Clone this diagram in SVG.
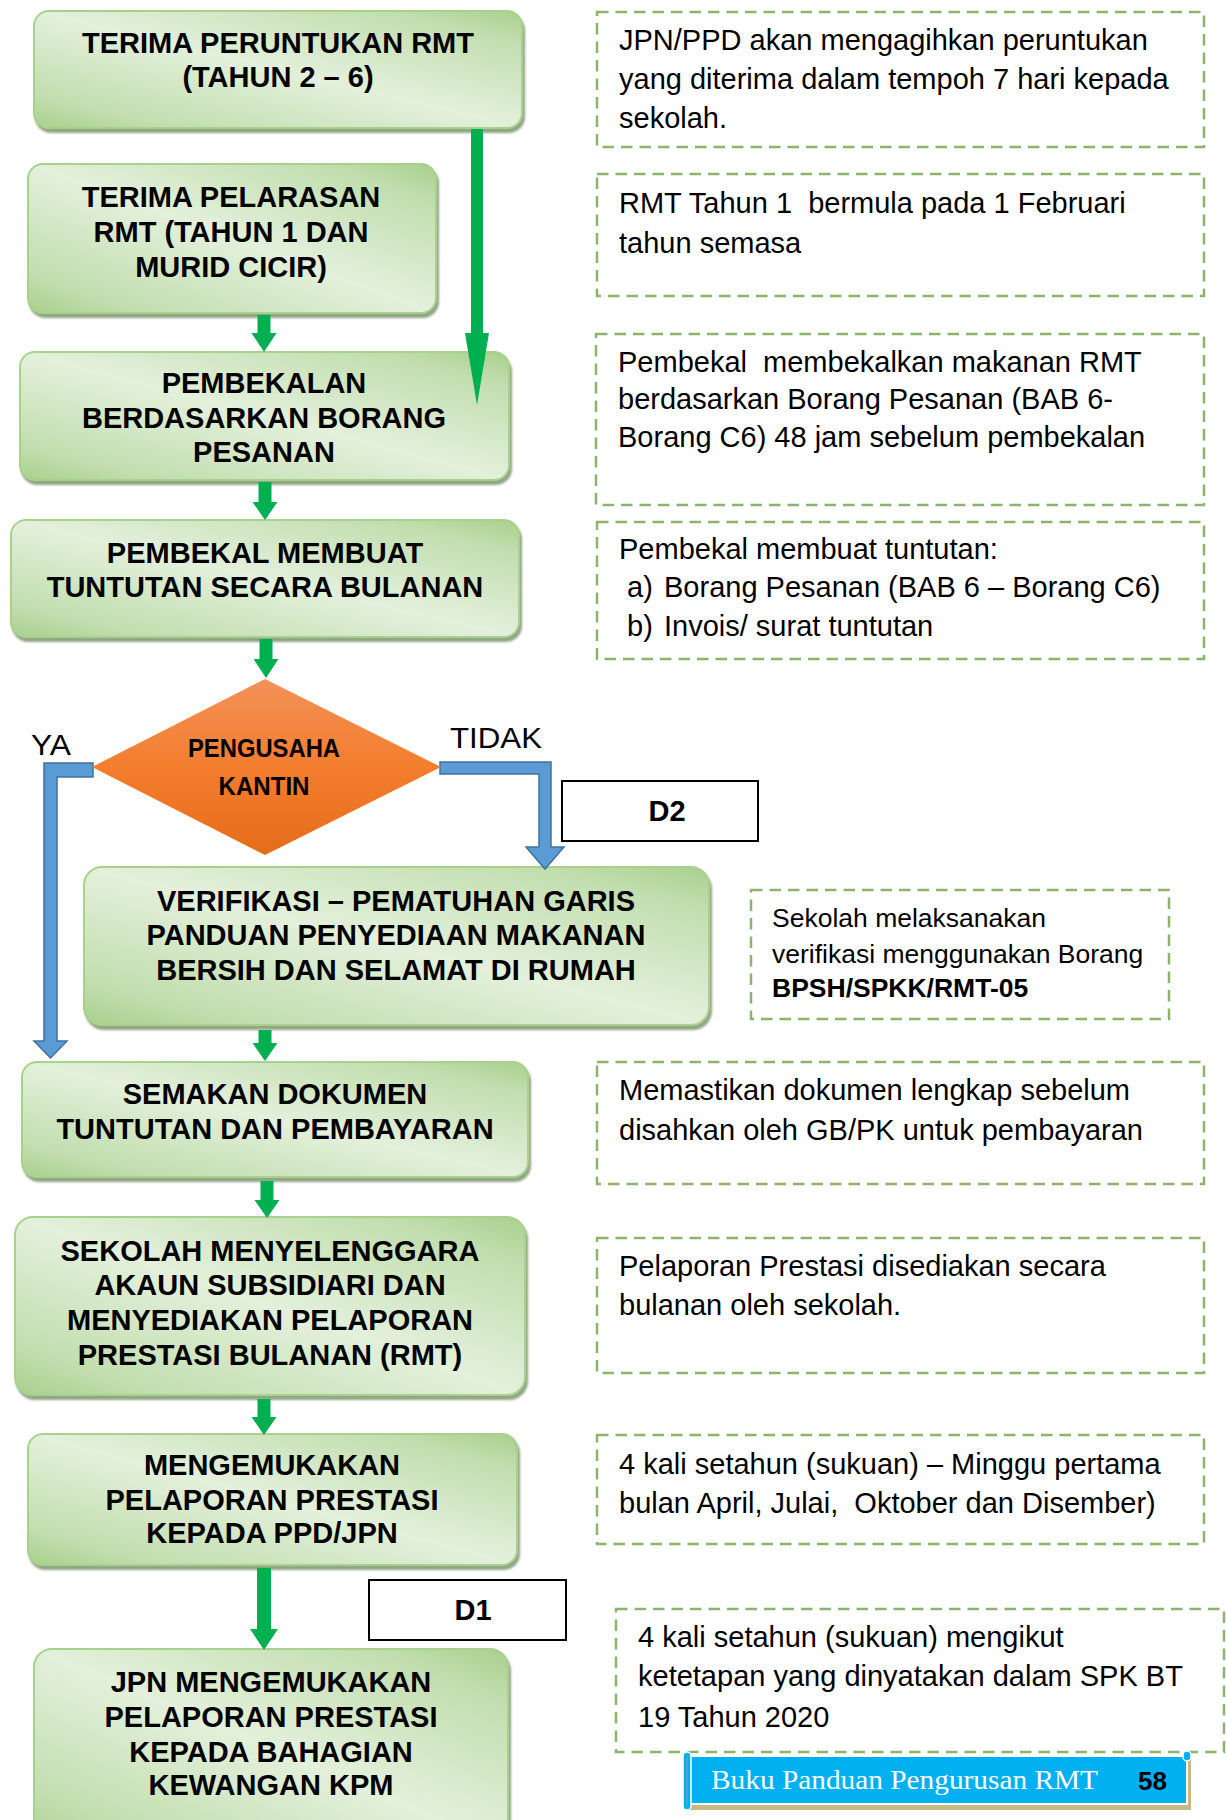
<svg xmlns="http://www.w3.org/2000/svg" width="1226" height="1820" viewBox="0 0 1226 1820">
<defs>
<linearGradient id="gb" x1="1" y1="0" x2="0" y2="1">
<stop offset="0" stop-color="#a8d08c"/>
<stop offset="0.14" stop-color="#c2deaf"/>
<stop offset="0.5" stop-color="#e3f0db"/>
<stop offset="0.86" stop-color="#c2deaf"/>
<stop offset="1" stop-color="#a8d08c"/>
</linearGradient>
<linearGradient id="og" x1="0" y1="0" x2="0" y2="1">
<stop offset="0" stop-color="#f29259"/>
<stop offset="0.5" stop-color="#f47d2e"/>
<stop offset="1" stop-color="#e56c19"/>
</linearGradient>
<filter id="sh" x="-5%" y="-10%" width="110%" height="130%">
<feDropShadow dx="2" dy="4" stdDeviation="1.2" flood-color="#7e9570" flood-opacity="0.85"/>
</filter>
<style>
.gbox{fill:url(#gb);stroke:#a9d18e;stroke-width:2;filter:url(#sh)}
.bt{font-family:'Liberation Sans',Arial,sans-serif;font-weight:bold;font-size:29px;fill:#000;text-anchor:middle}
.note{fill:none;stroke:#8db36c;stroke-width:2.5;stroke-dasharray:11.5 7}
.nt{font-family:'Liberation Sans',Arial,sans-serif;font-size:29px;fill:#000}
.ns{font-family:'Liberation Sans',Arial,sans-serif;font-size:26.5px;fill:#000}
.garrow{fill:#00b050}
.barrow{fill:#5b9bd5;stroke:#41719c;stroke-width:1.5}
.lbl{font-family:'Liberation Sans',Arial,sans-serif;font-size:29px;fill:#000}
.dbox{fill:#fff;stroke:#000;stroke-width:2}
</style>
</defs>

<rect width="1226" height="1820" fill="#fff"/>

<g id="n1">
<rect class="gbox" x="34" y="11" width="488" height="117" rx="15"/>
<text class="bt" x="278" y="53">TERIMA PERUNTUKAN RMT</text>
<text class="bt" x="278" y="87">(TAHUN 2 – 6)</text>
</g>
<g id="n2">
<rect class="gbox" x="28" y="164" width="408" height="149" rx="15"/>
<text class="bt" x="231" y="207">TERIMA PELARASAN</text>
<text class="bt" x="231" y="242">RMT (TAHUN 1 DAN</text>
<text class="bt" x="231" y="277">MURID CICIR)</text>
</g>
<g id="n3">
<rect class="gbox" x="20" y="352" width="489" height="128" rx="15"/>
<text class="bt" x="264" y="393">PEMBEKALAN</text>
<text class="bt" x="264" y="428">BERDASARKAN BORANG</text>
<text class="bt" x="264" y="462">PESANAN</text>
</g>
<g id="n4">
<rect class="gbox" x="11" y="520" width="508" height="117" rx="15"/>
<text class="bt" x="265" y="563">PEMBEKAL MEMBUAT</text>
<text class="bt" x="265" y="597">TUNTUTAN SECARA BULANAN</text>
</g>
<g id="n5">
<rect class="gbox" x="84" y="867" width="625" height="158" rx="18"/>
<text class="bt" x="396" y="911">VERIFIKASI – PEMATUHAN GARIS</text>
<text class="bt" x="396" y="945">PANDUAN PENYEDIAAN MAKANAN</text>
<text class="bt" x="396" y="980">BERSIH DAN SELAMAT DI RUMAH</text>
</g>
<g id="n6">
<rect class="gbox" x="22" y="1062" width="506" height="115" rx="15"/>
<text class="bt" x="275" y="1104">SEMAKAN DOKUMEN</text>
<text class="bt" x="275" y="1139">TUNTUTAN DAN PEMBAYARAN</text>
</g>
<g id="n7">
<rect class="gbox" x="15" y="1217" width="510" height="178" rx="18"/>
<text class="bt" x="270" y="1261">SEKOLAH MENYELENGGARA</text>
<text class="bt" x="270" y="1295">AKAUN SUBSIDIARI DAN</text>
<text class="bt" x="270" y="1330">MENYEDIAKAN PELAPORAN</text>
<text class="bt" x="270" y="1365">PRESTASI BULANAN (RMT)</text>
</g>
<g id="n8">
<rect class="gbox" x="28" y="1434" width="489" height="131" rx="15"/>
<text class="bt" x="272" y="1475">MENGEMUKAKAN</text>
<text class="bt" x="272" y="1510">PELAPORAN PRESTASI</text>
<text class="bt" x="272" y="1543">KEPADA PPD/JPN</text>
</g>
<g id="n9">
<rect class="gbox" x="34" y="1649" width="474" height="200" rx="18"/>
<text class="bt" x="271" y="1692">JPN MENGEMUKAKAN</text>
<text class="bt" x="271" y="1727">PELAPORAN PRESTASI</text>
<text class="bt" x="271" y="1762">KEPADA BAHAGIAN</text>
<text class="bt" x="271" y="1795">KEWANGAN KPM</text>
</g>

<g id="connectors">
<polygon class="garrow" points="471,129 483,129 483,333 489,333 477,405 465,333 471,333"/>
<polygon class="garrow" points="257.5,315 270.5,315 270.5,333 276.5,333 264,352 251.5,333 257.5,333"/>
<polygon class="garrow" points="258.5,482 271.5,482 271.5,502 277.5,502 265,520 252.5,502 258.5,502"/>
<polygon class="garrow" points="259.5,639 272.5,639 272.5,659 278.5,659 266,678 253.5,659 259.5,659"/>
<polygon class="garrow" points="258.5,1030 271.5,1030 271.5,1043 277.5,1043 265,1061 252.5,1043 258.5,1043"/>
<polygon class="garrow" points="260.5,1181 273.5,1181 273.5,1200 279.5,1200 267,1218 254.5,1200 260.5,1200"/>
<polygon class="garrow" points="257.5,1399 270.5,1399 270.5,1417 276.5,1417 264,1435 251.5,1417 257.5,1417"/>
<polygon class="garrow" points="257,1568 271,1568 271,1629 278,1629 264,1650 250,1629 257,1629"/>
<polygon class="barrow" points="93,763 44,763 44,1041 34,1041 50.5,1058 67,1041 57,1041 57,777 93,777"/>
<polygon class="barrow" points="440,762 551,762 551,847 564,847 545,869 526,847 539,847 539,774 440,774"/>
<text class="lbl" x="31" y="755" textLength="40" lengthAdjust="spacingAndGlyphs">YA</text>
<text class="lbl" x="450" y="748" textLength="92" lengthAdjust="spacingAndGlyphs">TIDAK</text>
</g>

<g id="decision">
<polygon points="265,679 441,767 265,855 92,767" fill="url(#og)"/>
<text class="bt" x="264" y="757" style="font-size:25px" textLength="152" lengthAdjust="spacingAndGlyphs">PENGUSAHA</text>
<text class="bt" x="264" y="795" style="font-size:25px" textLength="91" lengthAdjust="spacingAndGlyphs">KANTIN</text>
</g>
<g id="d2">
<rect class="dbox" x="562" y="781" width="196" height="60"/>
<text class="bt" x="667" y="821">D2</text>
</g>
<g id="d1">
<rect class="dbox" x="369" y="1580" width="197" height="60"/>
<text class="bt" x="473" y="1620">D1</text>
</g>

<g id="note1">
<rect class="note" x="597" y="12" width="607" height="135"/>
<text class="nt" x="619" y="50">JPN/PPD akan mengagihkan peruntukan</text>
<text class="nt" x="619" y="89">yang diterima dalam tempoh 7 hari kepada</text>
<text class="nt" x="619" y="128">sekolah.</text>
</g>
<g id="note2">
<rect class="note" x="597" y="174" width="607" height="122"/>
<text class="nt" x="619" y="213" xml:space="preserve">RMT Tahun 1  bermula pada 1 Februari</text>
<text class="nt" x="619" y="253">tahun semasa</text>
</g>
<g id="note3">
<rect class="note" x="596" y="334" width="608" height="171"/>
<text class="nt" x="618" y="372" xml:space="preserve">Pembekal  membekalkan makanan RMT</text>
<text class="nt" x="618" y="409">berdasarkan Borang Pesanan (BAB 6-</text>
<text class="nt" x="618" y="447">Borang C6) 48 jam sebelum pembekalan</text>
</g>
<g id="note4">
<rect class="note" x="597" y="522" width="607" height="137"/>
<text class="nt" x="619" y="559">Pembekal membuat tuntutan:</text>
<text class="nt" x="627" y="597">a)</text>
<text class="nt" x="664" y="597">Borang Pesanan (BAB 6 – Borang C6)</text>
<text class="nt" x="627" y="636">b)</text>
<text class="nt" x="664" y="636">Invois/ surat tuntutan</text>
</g>
<g id="note5">
<rect class="note" x="751" y="890" width="418" height="129"/>
<text class="ns" x="772" y="927">Sekolah melaksanakan</text>
<text class="ns" x="772" y="963">verifikasi menggunakan Borang</text>
<text class="ns" x="772" y="997" font-weight="bold">BPSH/SPKK/RMT-05</text>
</g>
<g id="note6">
<rect class="note" x="597" y="1062" width="607" height="122"/>
<text class="nt" x="619" y="1100">Memastikan dokumen lengkap sebelum</text>
<text class="nt" x="619" y="1140">disahkan oleh GB/PK untuk pembayaran</text>
</g>
<g id="note7">
<rect class="note" x="597" y="1238" width="607" height="135"/>
<text class="nt" x="619" y="1276">Pelaporan Prestasi disediakan secara</text>
<text class="nt" x="619" y="1315">bulanan oleh sekolah.</text>
</g>
<g id="note8">
<rect class="note" x="597" y="1435" width="607" height="109"/>
<text class="nt" x="619" y="1474">4 kali setahun (sukuan) – Minggu pertama</text>
<text class="nt" x="619" y="1513" xml:space="preserve">bulan April, Julai,  Oktober dan Disember)</text>
</g>
<g id="note9">
<rect class="note" x="616" y="1609" width="608" height="143"/>
<text class="nt" x="638" y="1647">4 kali setahun (sukuan) mengikut</text>
<text class="nt" x="638" y="1686">ketetapan yang dinyatakan dalam SPK BT</text>
<text class="nt" x="638" y="1727">19 Tahun 2020</text>
</g>

<g id="footer">
<rect x="690" y="1760" width="501" height="50" fill="#c6b785"/>
<rect x="687" y="1756" width="500" height="48" fill="#00b0f0" stroke="#fff" stroke-width="2"/>
<rect x="683" y="1752" width="8" height="58" rx="4" fill="#00b0f0" stroke="#fff" stroke-width="1.5"/>
<line x1="687" y1="1758" x2="687" y2="1806" stroke="#9a9a9a" stroke-width="1"/>
<rect x="1183" y="1751" width="8" height="10" rx="4" fill="#00b0f0" stroke="#fff" stroke-width="1.5"/>
<text x="711" y="1789" font-family="'Liberation Serif','Times New Roman',serif" font-size="28" fill="#fff" textLength="387" lengthAdjust="spacingAndGlyphs">Buku Panduan Pengurusan RMT</text>
<text x="1138" y="1790" font-family="'Liberation Sans',Arial,sans-serif" font-weight="bold" font-size="26" fill="#000">58</text>
</g>
</svg>
